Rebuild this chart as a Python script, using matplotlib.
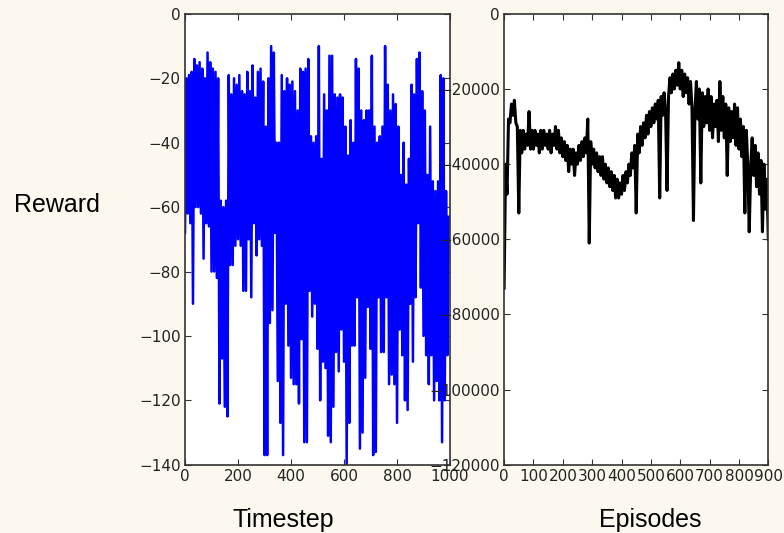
import matplotlib
matplotlib.use('Agg')
import matplotlib.pyplot as plt

# reward per timestep (sampled every 5 steps)
reward = [
    -68, -20, -62, -19, -65, -18, -90, -14, -60, -16,
    -60, -15, -62, -17, -76, -20, -65, -12, -66, -15,
    -80, -17, -80, -18, -82, -20, -121, -58, -107, -60,
    -122, -58, -125, -19, -78, -25, -78, -20, -72, -22,
    -70, -19, -72, -24, -86, -25, -86, -18, -70, -24,
    -88, -16, -65, -26, -75, -18, -70, -17, -72, -21,
    -137, -35, -137, -20, -96, -10, -92, -12, -68, -40,
    -114, -40, -127, -19, -137, -24, -90, -20, -103, -22,
    -113, -21, -115, -24, -115, -30, -121, -17, -101, -18,
    -133, -17, -133, -14, -86, -38, -94, -40, -90, -38,
    -104, -10, -120, -45, -108, -25, -110, -30, -131, -13,
    -133, -13, -122, -25, -105, -26, -111, -25, -98, -26,
    -108, -35, -140, -44, -127, -33, -103, -40, -103, -14,
    -88, -17, -135, -30, -130, -33, -113, -30, -91, -30,
    -104, -13, -137, -35, -136, -40, -88, -38, -105, -35,
    -105, -10, -88, -22, -115, -30, -112, -25, -115, -28,
    -127, -35, -98, -50, -106, -40, -120, -53, -123, -45,
    -90, -22, -108, -25, -88, -14, -65, -12, -85, -24,
    -100, -30, -106, -50, -115, -35, -106, -52, -120, -55,
    -114, -52, -120, -19, -133, -20, -120, -55, -106, -63,
]
timestep = list(range(0, 5 * len(reward), 5))

# total reward per episode (sampled every 5 episodes)
ep_reward = [
    -73000, -40000, -48000, -28000, -29000, -24000, -27000, -23000, -29000, -30000,
    -53000, -31000, -37000, -31000, -36000, -32000, -35000, -26000, -36000, -31000,
    -36000, -31000, -35000, -32000, -37000, -31000, -36000, -31000, -35000, -32000,
    -36000, -31000, -37000, -32000, -35000, -30000, -36000, -31000, -37000, -33000,
    -38000, -34000, -39000, -35000, -42000, -36000, -40000, -36000, -43000, -37000,
    -40000, -35000, -39000, -34000, -38000, -33000, -37000, -28000, -61000, -34000,
    -40000, -36000, -41000, -37000, -42000, -38000, -43000, -38000, -44000, -40000,
    -45000, -41000, -46000, -42000, -47000, -43000, -49000, -44000, -49000, -45000,
    -48000, -43000, -47000, -42000, -45000, -40000, -43000, -37000, -41000, -35000,
    -53000, -32000, -37000, -30000, -35000, -29000, -33000, -27000, -32000, -26000,
    -30000, -25000, -29000, -24000, -28000, -23000, -49000, -22000, -27000, -21000,
    -26000, -47000, -22000, -17000, -21000, -16000, -20000, -15000, -19000, -13000,
    -20000, -15000, -22000, -16000, -21000, -17000, -24000, -18000, -25000, -55000,
    -26000, -18000, -28000, -20000, -45000, -21000, -30000, -22000, -29000, -20000,
    -31000, -22000, -33000, -24000, -30000, -23000, -34000, -18000, -31000, -22000,
    -33000, -24000, -43000, -25000, -34000, -26000, -33000, -24000, -35000, -25000,
    -36000, -28000, -38000, -30000, -53000, -31000, -40000, -58000, -41000, -33000,
    -43000, -35000, -46000, -37000, -48000, -39000, -58000, -40000, -52000, -44000,
    -60000,
]
episodes = list(range(0, 5 * len(ep_reward), 5))

bg = '#fcf8ed'
fig = plt.figure(figsize=(7.84, 5.33), dpi=100, facecolor=bg)

ax1 = fig.add_axes([0.236, 0.128, 0.338, 0.846])
ax2 = fig.add_axes([0.643, 0.128, 0.337, 0.846])

ax1.plot(timestep, reward, color='#0000ff', lw=1.8)
ax1.set_xlim(0, 1000)
ax1.set_ylim(-140, 0)
ax1.set_xticks(range(0, 1001, 200))
ax1.set_yticks(range(-140, 1, 20))

ax2.plot(episodes, ep_reward, color='black', lw=2.2)
ax2.set_xlim(0, 900)
ax2.set_ylim(-120000, 0)
ax2.set_xticks(range(0, 901, 100))
ax2.set_yticks(range(-120000, 1, 20000))

for ax in (ax1, ax2):
    ax.set_facecolor('white')
    for s in ax.spines.values():
        s.set_color('#333333')
        s.set_linewidth(1.2)
    ax.tick_params(direction='in', top=True, right=True, length=4,
                   color='#333333', labelsize=11, labelcolor='#222222', pad=3)

fig.text(0.072, 0.615, 'Reward', fontsize=18, family='Liberation Sans',
         ha='center', va='center')
fig.text(0.361, 0.025, 'Timestep', fontsize=18, family='Liberation Sans',
         ha='center', va='center')
fig.text(0.830, 0.025, 'Episodes', fontsize=18, family='Liberation Sans',
         ha='center', va='center')

fig.savefig('out.png', dpi=100, facecolor=bg)
